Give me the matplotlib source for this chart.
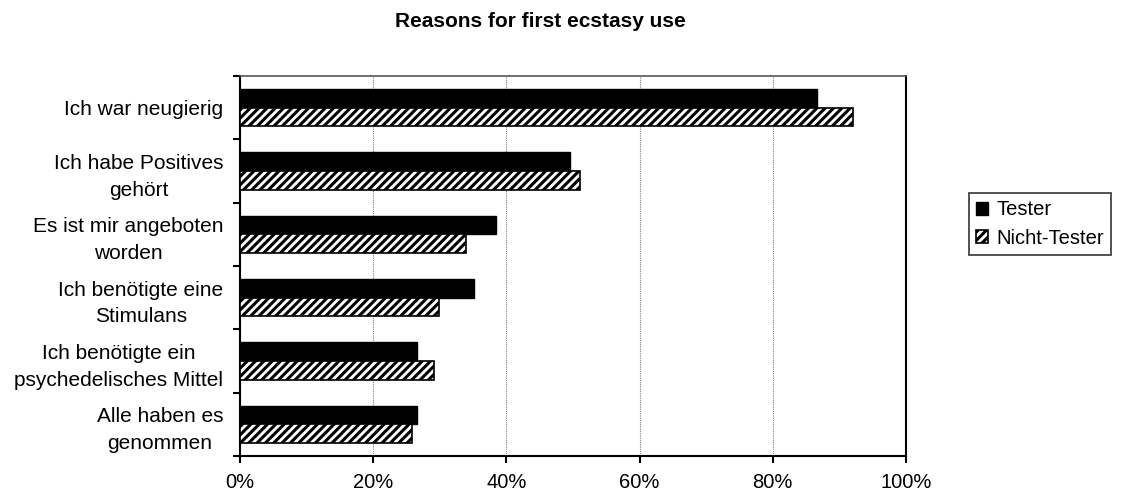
import numpy as np
import matplotlib.pyplot as plt
from matplotlib.ticker import FixedLocator, PercentFormatter

plt.rcParams['font.family'] = ['Liberation Sans', 'DejaVu Sans']
plt.rcParams['hatch.linewidth'] = 2.2

categories = [
    "Ich war neugierig",
    "Ich habe Positives\ngehört",
    "Es ist mir angeboten\nworden",
    "Ich benötigte eine\nStimulans",
    "Ich benötigte ein\npsychedelisches Mittel",
    "Alle haben es\ngenommen",
]
tester = [86.7, 49.6, 38.4, 35.2, 26.6, 26.6]
nicht_tester = [92.1, 51.1, 34.0, 29.9, 29.1, 25.8]
series_names = ["Tester", "Nicht-Tester"]

fs = 14.5

fig = plt.figure(figsize=(11.21, 4.95), dpi=100)
ax = fig.add_axes([240 / 1121, 1 - 456 / 495, 666 / 1121, 380 / 495])

n = len(categories)
pos = np.arange(n)[::-1].astype(float)
h = 0.295

ax.barh(pos + h / 2, tester, height=h, color='black', edgecolor='black',
        linewidth=1, label=series_names[0], zorder=3)
ax.barh(pos - h / 2, nicht_tester, height=h, color='white', edgecolor='black',
        hatch='////', linewidth=1.2, label=series_names[1], zorder=3)

ax.set_xlim(0, 100)
ax.set_ylim(-0.5, n - 0.5)
ax.set_xticks([0, 20, 40, 60, 80, 100])
ax.xaxis.set_major_formatter(PercentFormatter(decimals=0))
ax.set_yticks(pos)
ax.set_yticklabels(categories, multialignment='center', linespacing=1.5)
ax.yaxis.set_minor_locator(FixedLocator(np.arange(n + 1) - 0.5))
ax.tick_params(axis='y', which='major', length=0, pad=12, labelsize=15)
ax.tick_params(axis='y', which='minor', length=5, width=1.5, direction='out')
ax.tick_params(axis='x', length=5, width=1.5, direction='out', pad=7,
               labelsize=fs)

ax.grid(axis='x', color='#808080', linestyle=(0, (1, 1)), linewidth=0.8,
        zorder=0)
for side in ['left', 'bottom', 'right']:
    ax.spines[side].set_linewidth(1.5)
    ax.spines[side].set_color('black')
ax.spines['top'].set_color('#555555')
ax.spines['top'].set_linewidth(1.2)

fig.text(540 / 1121, 1 - 27 / 495, "Reasons for first ecstasy use",
         ha='center', va='baseline', fontsize=15, fontweight='bold')

leg = fig.legend(loc='center', bbox_to_anchor=(1040 / 1121, 1 - 224 / 495),
                 fontsize=fs, frameon=True, fancybox=False, handlelength=0.6,
                 handleheight=0.6, handletextpad=0.4, borderpad=0.35,
                 labelspacing=0.45, borderaxespad=0)
leg.get_frame().set_edgecolor('black')
leg.get_frame().set_linewidth(1.2)

fig.savefig('out.png', dpi=100)
